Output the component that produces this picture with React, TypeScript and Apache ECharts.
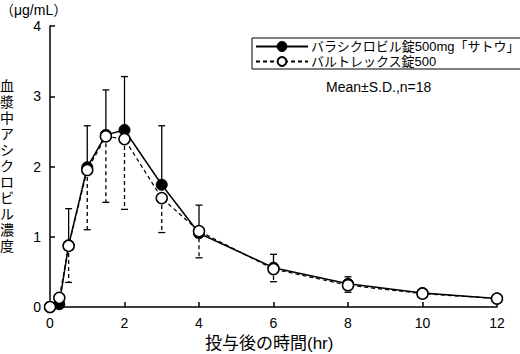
import React, { useEffect, useRef } from "react";
import * as echarts from "echarts";

const times = [0, 0.25, 0.5, 1, 1.5, 2, 3, 4, 6, 8, 10, 12];
const genericMean = [0, 0.04, 0.88, 1.99, 2.45, 2.52, 1.74, 1.05, 0.56, 0.33, 0.2, 0.12];
const genericUpper: (number | null)[] = [null, null, 1.4, 2.58, 3.09, 3.28, 2.58, 1.45, 0.75, 0.43, 0.25, null];
const brandMean = [0, 0.13, 0.87, 1.95, 2.43, 2.39, 1.55, 1.08, 0.54, 0.31, 0.19, 0.12];
const brandLower: (number | null)[] = [null, null, 0.35, 1.1, 1.49, 1.39, 1.06, 0.7, 0.36, 0.21, 0.14, null];
const seriesNames = ["バラシクロビル錠500mg「サトウ」", "バルトレックス錠500"];
const xTicks = [0, 2, 4, 6, 8, 10, 12];
const yTicks = [0, 1, 2, 3, 4];

const FONT = "'Liberation Sans', 'Noto Sans CJK JP', sans-serif";

function errRender(dashed: boolean) {
  return (params: any, api: any) => {
    const x = api.value(0);
    const m = api.value(1);
    const e = api.value(2);
    const p0 = api.coord([x, m]);
    const p1 = api.coord([x, e]);
    const style = { stroke: "#000", lineWidth: 1.3, lineDash: dashed ? [4, 3] : null, fill: null };
    return {
      type: "group",
      children: [
        { type: "line", shape: { x1: p0[0], y1: p0[1], x2: p1[0], y2: p1[1] }, style },
        { type: "line", shape: { x1: p1[0] - 3.5, y1: p1[1], x2: p1[0] + 3.5, y2: p1[1] }, style: { stroke: "#000", lineWidth: 1.3 } },
      ],
    };
  };
}

export default function App() {
  const ref = useRef<HTMLDivElement>(null);
  useEffect(() => {
    const chart = echarts.init(ref.current!, null, { renderer: "svg" });
    const gErr = times
      .map((t, i) => (genericUpper[i] == null ? null : [t, genericMean[i], genericUpper[i]]))
      .filter((d) => d) as number[][];
    const bErr = times
      .map((t, i) => (brandLower[i] == null ? null : [t, brandMean[i], brandLower[i]]))
      .filter((d) => d) as number[][];
    chart.setOption({
      animation: false,
      textStyle: { fontFamily: FONT },
      grid: { left: 50, right: 23, top: 26, bottom: 47 },
      xAxis: {
        type: "value",
        min: 0,
        max: 12,
        interval: 2,
        axisLine: { lineStyle: { color: "#000", width: 1.5 } },
        axisTick: { inside: true, length: 5, lineStyle: { color: "#000", width: 1.5 } },
        axisLabel: {
          color: "#000",
          fontSize: 14,
          margin: 9,
          fontFamily: FONT,
          formatter: (v: number) => (xTicks.includes(v) ? String(v) : ""),
        },
        splitLine: { show: false },
      },
      yAxis: {
        type: "value",
        min: 0,
        max: 4,
        interval: 1,
        axisLine: { show: true, lineStyle: { color: "#000", width: 1.5 } },
        axisTick: { show: true, inside: true, length: 5, lineStyle: { color: "#000", width: 1.5 } },
        axisLabel: {
          color: "#000",
          fontSize: 14,
          margin: 9,
          fontFamily: FONT,
          formatter: (v: number) => (yTicks.includes(v) ? String(v) : ""),
        },
        splitLine: { show: false },
      },
      legend: {
        orient: "vertical",
        left: 252,
        top: 38,
        padding: [2, 4, 1, 3],
        itemGap: 2,
        itemWidth: 52,
        itemHeight: 11,
        borderColor: "#000",
        borderWidth: 1,
        data: seriesNames,
        textStyle: { color: "#000", fontSize: 13, fontFamily: FONT, padding: [0, 0, 0, -2] },
      },
      title: {
        text: "Mean±S.D.,n=18",
        left: 326,
        top: 80,
        padding: 0,
        textStyle: { color: "#000", fontSize: 14, fontWeight: "normal", fontFamily: FONT },
      },
      graphic: [
        {
          type: "text",
          left: 0,
          top: 3,
          style: { text: "（μg/mL）", fontSize: 14, fill: "#000", fontFamily: FONT },
        },
        {
          type: "text",
          left: 0,
          top: 78,
          style: {
            text: "血漿中アシクロビル濃度".split("").join("\n"),
            fontSize: 14,
            lineHeight: 16,
            fill: "#000",
            fontFamily: FONT,
            align: "center",
          },
        },
        {
          type: "text",
          left: 205,
          top: 335,
          style: { text: "投与後の時間(hr)", fontSize: 17, fill: "#000", fontFamily: FONT },
        },
      ],
      series: [
        {
          type: "custom",
          renderItem: errRender(false),
          data: gErr,
          z: 1,
          silent: true,
        },
        {
          type: "custom",
          renderItem: errRender(true),
          data: bErr,
          z: 1,
          silent: true,
        },
        {
          name: seriesNames[0],
          type: "line",
          data: times.map((t, i) => [t, genericMean[i]]),
          symbol: "circle",
          symbolSize: 11,
          lineStyle: { color: "#000", width: 1.5 },
          itemStyle: { color: "#000", borderColor: "#000", borderWidth: 1 },
          z: 3,
        },
        {
          name: seriesNames[1],
          type: "line",
          data: times.map((t, i) => [t, brandMean[i]]),
          symbol: "circle",
          symbolSize: 11,
          lineStyle: { color: "#000", width: 1.2, type: [4, 3] },
          itemStyle: { color: "#fff", borderColor: "#000", borderWidth: 1.5 },
          z: 4,
        },
      ],
    });
    return () => chart.dispose();
  }, []);
  return <div ref={ref} style={{ width: 520, height: 354, position: "absolute", left: 0, top: 0 }} />;
}
